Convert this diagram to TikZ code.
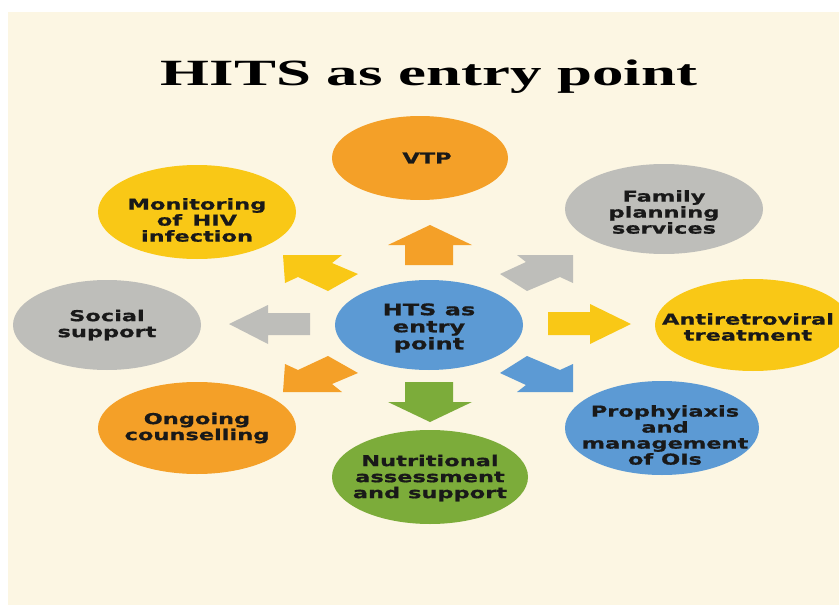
\documentclass[tikz,border=0pt]{standalone}
\usepackage{fontspec}
\usetikzlibrary{positioning}

\newfontfamily\bubblefont{DejaVu Sans}[FakeStretch=1.5,FakeBold=0.8]
\newfontfamily\headfont{Liberation Serif}[FakeStretch=1.7]

\definecolor{paper}{RGB}{252,246,227}
\definecolor{hitorange}{RGB}{244,160,40}
\definecolor{hityellow}{RGB}{249,200,22}
\definecolor{hitgray}{RGB}{190,190,186}
\definecolor{hitblue}{RGB}{92,154,212}
\definecolor{hitgreen}{RGB}{124,172,58}
\definecolor{ink}{RGB}{25,25,25}

\tikzset{
    bubbletext/.style={inner sep=0pt, align=center, text=ink,
        font=\bubblefont\bfseries\fontsize{15}{16}\selectfont},
    blockarrow/.style={draw=none}
}

\begin{document}
\begin{tikzpicture}[x=1pt,y=-1pt]
    \useasboundingbox (0,0) rectangle (839,605);
    \clip (0,0) rectangle (839,605);
    \fill[paper] (8,12) rectangle (839,605);

    \node[font=\headfont\bfseries\fontsize{37}{39}\selectfont, inner sep=0pt] (title) at (429,77) {HITS as entry point};

    % bubbles
    \fill[hitorange] (420,158) ellipse [x radius=88, y radius=42];
    \node[bubbletext] (vtp) at (427,158) {VTP};

    \fill[hityellow] (197,212) ellipse [x radius=99, y radius=47];
    \node[bubbletext] (monitor) at (197,220) {Monitoring\\of\,\ HIV\\infection};

    \fill[hitgray] (664,209) ellipse [x radius=99, y radius=45];
    \node[bubbletext] (family) at (664,212) {Family\\planning\\services};

    \fill[hitgray] (107,325) ellipse [x radius=94, y radius=45];
    \node[bubbletext] (social) at (107,325) {Social\\support};

    \fill[hitblue] (429,325) ellipse [x radius=94, y radius=45];
    \node[bubbletext, font=\bubblefont\bfseries\fontsize{16}{17}\selectfont] (hts) at (429,328) {HTS as\\entry\\point};

    \fill[hityellow] (753,325) ellipse [x radius=98, y radius=46];
    \node[bubbletext] (arv) at (748,327) {Antiretroviral\\treatment};

    \fill[hitorange] (197,428) ellipse [x radius=99, y radius=46];
    \node[bubbletext] (ongoing) at (197,428) {Ongoing\\counselling};

    \fill[hitgreen] (430,477) ellipse [x radius=98, y radius=47];
    \node[bubbletext] (nutri) at (430,478) {Nutritional\\assessment\\and support};

    \fill[hitblue] (662,428) ellipse [x radius=97, y radius=47];
    \node[bubbletext] (prophy) at (665,435) {Prophyiaxis\\and\\management\\of OIs};

    % arrows out of the centre
    \fill[hitorange, blockarrow] (430,225) -- (472,245) -- (453,245) -- (453,265)
        -- (405,265) -- (405,245) -- (388,245) -- cycle;
    \fill[hitgreen, blockarrow] (430,422) -- (472,402) -- (453,402) -- (453,382)
        -- (405,382) -- (405,402) -- (388,402) -- cycle;
    \fill[hitgray, blockarrow] (229,324) -- (268,305) -- (268,313) -- (310,313)
        -- (310,335) -- (268,335) -- (268,344) -- cycle;
    \fill[hityellow, blockarrow] (631,324) -- (590,304) -- (590,312) -- (548,312)
        -- (548,335) -- (590,335) -- (590,344) -- cycle;
    \fill[hityellow, blockarrow] (283,255) -- (342,255) -- (332,263) -- (358,274)
        -- (328,291) -- (298,277) -- (285,283) -- cycle;
    \fill[hitgray, blockarrow] (573,255) -- (517,255) -- (526,262) -- (500,274)
        -- (527,291) -- (560,277) -- (573,283) -- cycle;
    \fill[hitorange, blockarrow] (283,392) -- (342,392) -- (332,384) -- (358,373)
        -- (328,356) -- (298,370) -- (285,364) -- cycle;
    \fill[hitblue, blockarrow] (573,392) -- (517,392) -- (526,385) -- (500,373)
        -- (527,356) -- (560,370) -- (573,364) -- cycle;
\end{tikzpicture}
\end{document}
